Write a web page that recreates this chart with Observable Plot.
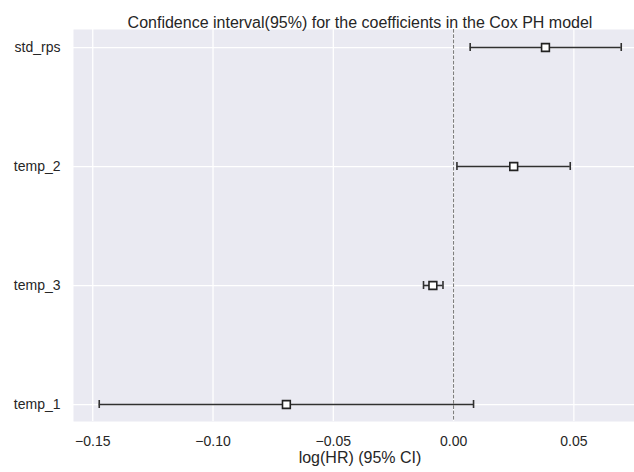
<!DOCTYPE html>
<html>
<head>
<meta charset="utf-8">
<script src="https://cdn.jsdelivr.net/npm/d3@7"></script>
<script src="https://cdn.jsdelivr.net/npm/@observablehq/plot@0.6"></script>
<style>
  html, body { margin: 0; padding: 0; background: #fff; overflow: hidden; }
  #chart svg { display: block; }
</style>
</head>
<body>
<div id="chart"></div>
<script>
// Cox PH coefficients (log hazard ratio) with 95% confidence bounds
const covariates = ["std_rps", "temp_2", "temp_3", "temp_1"];
const coef  = [0.0382, 0.0250, -0.0086, -0.0695];
const lower = [0.0069, 0.0014, -0.0125, -0.1473];
const upper = [0.0697, 0.0485, -0.0044, 0.0083];
const xTicks = [-0.15, -0.10, -0.05, 0.00, 0.05];
const title = "Confidence interval(95%) for the coefficients in the Cox PH model";
const xLabel = "log(HR) (95% CI)";

const rows = covariates.map((name, i) => ({name, coef: coef[i], lower: lower[i], upper: upper[i]}));

const ink = "#303030";

const chart = Plot.plot({
  width: 634,
  height: 472,
  marginTop: 29,
  marginBottom: 51,
  marginLeft: 73,
  marginRight: -12,
  style: {fontFamily: "'Liberation Sans', Arial, sans-serif", fontSize: "14px", color: "#262626", background: "#fff"},
  x: {domain: [-0.158, 0.0802], label: null},
  // narrow bands: row centres sit where the error bars are drawn
  y: {type: "band", domain: covariates, paddingInner: 0.9, paddingOuter: 0.092, label: null},
  marks: [
    Plot.frame({fill: "#eaeaf2", stroke: null}),
    Plot.gridX(xTicks, {stroke: "#fff", strokeOpacity: 1, strokeWidth: 1.25}),
    Plot.gridY(covariates, {stroke: "#fff", strokeOpacity: 1, strokeWidth: 1.25}),
    Plot.ruleX([0], {stroke: "#777", strokeWidth: 1, strokeDasharray: "3.7,1.6"}),
    Plot.ruleY(rows, {y: "name", x1: "lower", x2: "upper", stroke: ink, strokeWidth: 1.6}),
    Plot.tickX(rows, {x: "lower", y: "name", stroke: ink, strokeWidth: 1.6, insetTop: 2, insetBottom: 2}),
    Plot.tickX(rows, {x: "upper", y: "name", stroke: ink, strokeWidth: 1.6, insetTop: 2, insetBottom: 2}),
    Plot.dot(rows, {x: "coef", y: "name", symbol: "square", r: 4.4, fill: "#fff", stroke: "#222", strokeWidth: 1.6}),
    Plot.axisX(xTicks, {tickSize: 0, tickPadding: 15, tickFormat: d3.format(".2f"), fontSize: 14, fill: "#262626"}),
    Plot.axisY(covariates, {tickSize: 0, tickPadding: 13, fontSize: 14, fill: "#262626"}),
    Plot.text([title], {frameAnchor: "top", dy: -13, fontSize: 16, fill: "#262626"}),
    Plot.text([xLabel], {frameAnchor: "bottom", dy: 41, fontSize: 16, fill: "#262626"})
  ]
});

document.getElementById("chart").append(chart);
</script>
</body>
</html>
